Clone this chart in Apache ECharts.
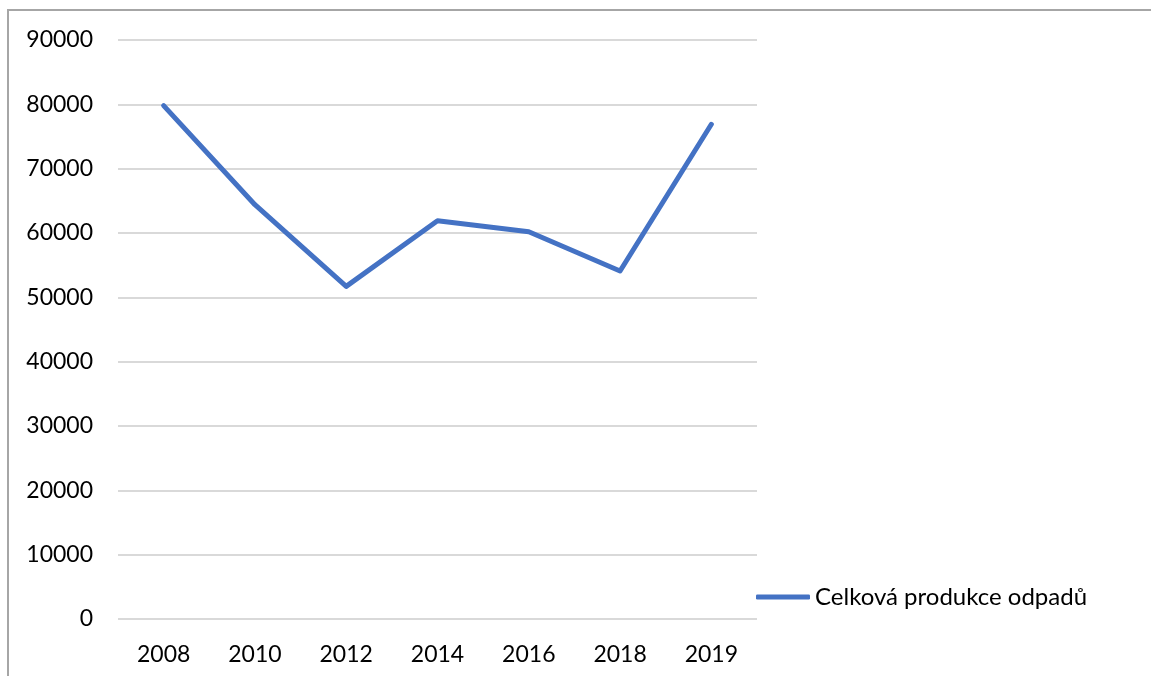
<!DOCTYPE html>
<html>
<head>
<meta charset="utf-8">
<script src="https://cdn.jsdelivr.net/npm/echarts@6/dist/echarts.min.js"></script>
<style>
html,body{margin:0;padding:0;background:#fff;}
#c{width:1151px;height:676px;}
</style>
</head>
<body>
<div id="c"></div>
<script>
const categories = ['2008', '2010', '2012', '2014', '2016', '2018', '2019'];
const seriesName = 'Celková produkce odpadů';
const values = [79800, 64400, 51700, 61900, 60200, 54100, 76900];
const yTicks = { min: 0, max: 90000, interval: 10000 };

const chart = echarts.init(document.getElementById('c'), null, { renderer: 'canvas' });
const font = 'Lato, "Open Sans", sans-serif';
chart.setOption({
  animation: false,
  backgroundColor: '#fff',
  graphic: [{
    type: 'rect',
    shape: { x: 8, y: 10, width: 1300, height: 900 },
    style: { fill: 'none', stroke: '#a6a6a6', lineWidth: 2 },
    silent: true
  }],
  grid: { left: 118, right: 394, top: 40, bottom: 57, containLabel: false },
  legend: {
    data: [seriesName],
    left: 751,
    top: 580,
    itemWidth: 54,
    itemHeight: 5,
    itemGap: 5,
    icon: 'roundRect',
    textStyle: { fontFamily: font, fontSize: 24, color: '#000' }
  },
  xAxis: {
    type: 'category',
    data: categories,
    boundaryGap: true,
    axisLine: { show: false },
    axisTick: { show: false },
    axisLabel: { fontFamily: font, fontSize: 23, color: '#000', margin: 24 }
  },
  yAxis: {
    type: 'value',
    min: yTicks.min,
    max: yTicks.max,
    interval: yTicks.interval,
    axisLine: { show: false },
    axisTick: { show: false },
    axisLabel: { fontFamily: font, fontSize: 23, color: '#000', margin: 25, formatter: v => String(v) },
    splitLine: { lineStyle: { color: '#d9d9d9', width: 2 } }
  },
  series: [{
    name: seriesName,
    type: 'line',
    data: values,
    showSymbol: false,
    symbol: 'none',
    lineStyle: { color: '#4472c4', width: 5, cap: 'round', join: 'round' },
    itemStyle: { color: '#4472c4' }
  }]
});
</script>
</body>
</html>
